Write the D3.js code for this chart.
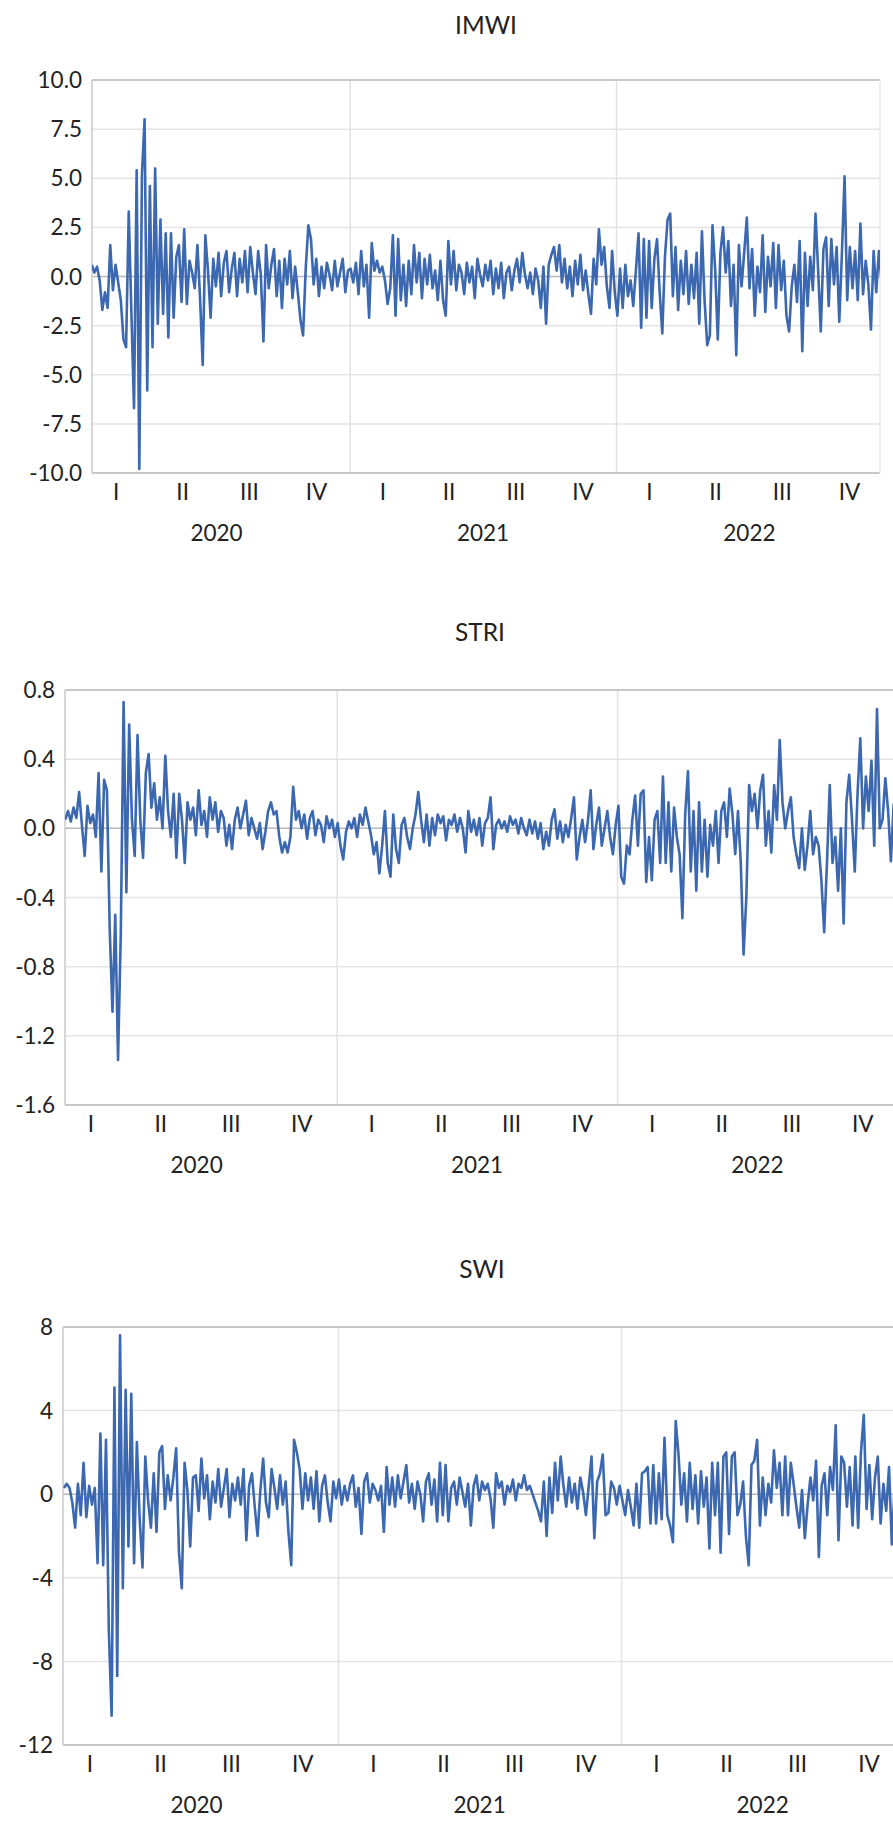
<!DOCTYPE html>
<html>
<head>
<meta charset="utf-8">
<script src="https://cdn.jsdelivr.net/npm/d3@7"></script>
<style>
  body { margin: 0; background: #fff; }
  svg { display: block; }
</style>
</head>
<body>
<svg id="chart"></svg>
<script>
// sample span of the daily series (evenly spaced observations)
const startDate = new Date(2020, 0, 13);
const endDate = new Date(2022, 11, 30);

const years = [2020, 2021, 2022];
const quarterLabels = ["I", "II", "III", "IV"];

const imwiTicks = [10, 7.5, 5, 2.5, 0, -2.5, -5, -7.5, -10];
const striTicks = [0.8, 0.4, 0, -0.4, -0.8, -1.2, -1.6];
const swiTicks = [8, 4, 0, -4, -8, -12];

const imwiValues = [
  0.6, 0.2, 0.5, -0.2, -1.7, -0.8, -1.6, 1.6, -0.7, 0.6,
  -0.3, -1.2, -3.2, -3.6, 3.3, -1.8, -6.7, 5.4, -9.8, 5.2,
  8.0, -5.8, 4.6, -3.6, 5.5, -2.4, 2.9, -1.9, 2.2, -3.1,
  2.2, -2.1, 1.0, 1.6, -1.3, 2.4, -1.4, 0.8, 0.2, -0.6,
  1.6, -1.1, -4.5, 2.1, 0.3, -2.1, 0.9, -0.5, 1.2, -1.0,
  0.7, 1.3, -0.8, 0.4, 1.2, -1.0, 0.9, -0.3, 1.3, -0.8,
  1.5, 0.2, -0.9, 1.3, 0.1, -3.3, 1.6, -0.6, 0.6, 1.4,
  -1.0, 0.8, -1.6, 0.9, -0.4, 1.3, -1.1, 0.5, -0.8, -2.2,
  -3.0, 0.4, 2.6, 1.9, -0.4, 0.9, -1.0, 0.5, -0.6, 0.7,
  0.1, -0.7, 0.8, -0.5, 0.2, 0.9, -0.8, 0.3, 0.4, -0.3,
  0.7, -0.9, 1.3, -0.5, 0.6, -2.1, 1.7, 0.3, 0.8, 0.2,
  0.5, -0.2, -1.4, -0.6, 2.1, -2.0, 1.9, -1.2, 0.6, -1.5,
  0.8, -0.9, 1.6, -0.3, 1.2, -1.1, 0.9, -0.4, 1.1, -0.6,
  0.3, -1.2, 0.8, -1.2, -2.0, 1.8, -0.4, 1.3, -0.7, 0.6,
  0.2, -0.9, 0.7, -0.3, 0.5, -1.1, 0.9, 0.1, -0.5, 0.6,
  -0.2, 0.8, -0.9, 0.4, -0.6, 0.7, -1.1, 0.2, 0.5, -0.7,
  0.3, 0.9, -0.3, 1.2, 0.1, -0.6, 0.2, -0.9, 0.4, -0.2,
  -1.6, 0.5, -2.4, 0.6, 1.1, 1.5, 0.3, 1.6, -0.3, 0.9,
  -0.6, 0.5, -1.0, 0.8, -0.4, 1.1, -0.7, 0.3, -0.9, -1.9,
  0.9, -0.4, 2.4, 0.6, 1.5, -0.5, -1.6, 1.3, -0.8, -2.0,
  0.4, -1.6, 0.6, -1.0, -0.2, -1.5, 0.3, 2.2, -2.6, 1.9,
  -2.1, 1.8, -1.6, 0.9, 1.9, -0.8, -2.9, 1.0, 2.9, 3.2,
  -1.0, 1.5, -1.7, 0.8, -0.9, 1.3, -1.4, 0.6, -1.1, 1.2,
  -2.4, 2.3, -1.2, -3.5, -3.0, 2.6, 0.4, -3.2, 1.2, 2.5,
  0.2, 1.8, -1.5, 0.6, -4.0, 1.6, -0.5, 1.2, 3.0, -0.6,
  1.4, -2.0, 0.5, -0.8, 2.1, -1.8, 1.0, -0.5, 1.7, -1.6,
  1.6, -0.7, 0.8, -2.0, -2.8, -0.5, 0.6, -1.3, 1.8, -3.8,
  1.2, -1.5, 1.0, -0.7, 3.2, 0.3, -2.8, 1.4, 2.0, -1.5,
  1.9, -0.4, 1.5, -2.3, 1.2, 5.1, -1.2, 1.5, -0.6, 1.3,
  -1.2, 2.7, -0.9, 0.8, -0.4, -2.7, 1.3, -0.8, 1.3, -0.3
];

const striValues = [
  0.05, 0.10, 0.04, 0.12, 0.06, 0.21, 0.02, -0.16, 0.13, 0.03,
  0.08, -0.05, 0.32, -0.25, 0.28, 0.22, -0.58, -1.06, -0.50, -1.34,
  -0.60, 0.73, -0.37, 0.60, 0.05, -0.16, 0.54, 0.05, -0.17, 0.32,
  0.43, 0.12, 0.26, 0.05, 0.18, 0.00, 0.42, 0.10, -0.05, 0.20,
  -0.17, 0.20, 0.05, -0.20, 0.15, 0.05, 0.12, -0.04, 0.22, 0.02,
  0.10, -0.05, 0.18, 0.05, 0.15, -0.02, 0.10, 0.06, -0.10, 0.02,
  -0.12, 0.05, 0.12, 0.00, 0.08, 0.16, -0.04, 0.06, 0.00, -0.06,
  0.03, -0.12, -0.02, 0.10, 0.15, 0.08, 0.10, -0.05, -0.14, -0.08,
  -0.14, -0.05, 0.24, 0.05, 0.10, 0.00, 0.08, -0.06, 0.06, 0.10,
  -0.04, 0.05, 0.02, -0.08, 0.07, 0.00, 0.05, -0.05, 0.03, -0.10,
  -0.18, -0.02, 0.04, 0.00, 0.06, -0.05, 0.08, 0.02, 0.12, 0.04,
  -0.04, -0.15, -0.08, -0.26, -0.10, 0.10, -0.20, -0.28, 0.08, -0.12,
  -0.20, 0.02, 0.06, -0.05, -0.12, 0.00, 0.08, 0.21, 0.05, -0.08,
  0.08, -0.10, 0.06, -0.04, 0.08, 0.03, 0.07, -0.07, 0.05, 0.02,
  0.08, -0.02, 0.06, 0.00, -0.14, 0.10, -0.02, 0.05, -0.04, 0.06,
  -0.10, 0.03, 0.06, 0.18, -0.12, 0.02, 0.05, 0.00, 0.04, -0.02,
  0.07, 0.02, 0.05, -0.03, 0.06, 0.00, -0.04, 0.05, -0.03, 0.04,
  -0.06, 0.03, -0.12, -0.02, -0.10, 0.05, 0.11, -0.06, 0.04, -0.08,
  0.02, -0.05, 0.06, 0.18, -0.18, -0.05, 0.05, -0.08, 0.04, 0.22,
  -0.12, 0.02, 0.12, -0.10, 0.00, 0.10, -0.05, -0.15, 0.02, 0.13,
  -0.28, -0.32, -0.10, -0.15, 0.05, 0.19, -0.10, 0.20, 0.22, -0.31,
  -0.05, -0.30, 0.05, 0.10, -0.20, 0.30, -0.20, 0.15, -0.25, 0.12,
  -0.05, -0.15, -0.52, 0.08, 0.33, -0.25, 0.10, -0.36, 0.15, -0.25,
  0.05, -0.28, 0.02, -0.10, 0.10, -0.20, 0.10, 0.15, -0.05, 0.23,
  0.08, -0.15, 0.10, -0.20, -0.73, -0.40, 0.25, 0.10, 0.20, 0.00,
  0.22, 0.31, -0.10, 0.10, -0.14, 0.25, 0.05, 0.51, 0.15, 0.00,
  0.10, 0.18, -0.05, -0.15, -0.23, 0.00, -0.24, -0.10, 0.10, -0.15,
  -0.05, -0.10, -0.30, -0.60, -0.20, 0.25, -0.20, -0.05, -0.36, 0.00,
  -0.55, 0.15, 0.31, 0.05, -0.25, 0.20, 0.52, 0.00, 0.30, 0.10,
  0.39, -0.10, 0.69, 0.00, 0.05, 0.29, 0.10, -0.19, 0.14, -0.10
];

const swiValues = [
  0.3, 0.5, 0.3, -0.4, -1.6, 0.5, -1.0, 1.5, -1.1, 0.4,
  -0.5, 0.3, -3.3, 2.9, -3.4, 2.6, -6.5, -10.6, 5.1, -8.7,
  7.6, -4.5, 5.0, -2.5, 4.8, -3.3, 2.5, -1.2, -3.5, 1.8,
  -0.3, -1.6, 1.0, -1.8, 2.0, 2.3, -0.7, 0.9, -0.3, 0.8,
  2.2, -2.8, -4.5, 1.5, 0.2, -2.5, 0.8, 0.9, -0.8, 1.7,
  -0.2, 0.9, -1.2, 0.6, -0.4, 1.2, -0.6, 0.3, 1.2, -1.1,
  0.5, -0.3, 0.8, -0.5, 1.2, -2.2, 0.4, 1.0, -0.6, -2.0,
  0.2, 1.7, -0.4, -1.1, 1.2, 0.3, -0.7, 0.9, -0.5, 0.6,
  -1.8, -3.4, 2.6, 2.0, 1.2, -0.7, 1.0, -0.3, 0.8, -0.7,
  1.1, -1.3, 0.4, 0.9, -0.4, -1.3, 0.6, -0.2, 0.7, -0.5,
  0.4, -0.3, 0.5, 0.9, -0.6, 0.3, -1.9, 0.6, 1.0, -0.4,
  0.5, 0.2, -0.3, 0.4, -1.8, 1.3, -0.5, 0.8, -0.6, 0.9,
  -0.2, 0.6, 1.4, -0.4, 0.5, -0.7, 0.6, 0.0, -1.3, 0.6,
  1.0, -0.5, 0.7, -1.3, 1.5, -1.0, 1.4, -1.3, 0.3, 0.6,
  -0.5, 0.8, 0.1, -0.6, 0.5, -1.5, 0.4, 0.9, -0.3, 0.6,
  0.2, 0.5, -0.2, -1.6, 1.0, 0.3, 0.6, -0.5, 0.4, 0.1,
  0.7, -0.3, 0.5, 0.3, 0.9, 0.2, 0.4, 0.0, -0.4, -0.8,
  -1.3, 0.6, -2.0, 0.8, -0.9, 1.5, -0.3, 1.8, 0.4, -0.6,
  0.8, -0.4, 0.5, -0.7, 0.8, 0.1, -1.0, 0.4, 1.8, -2.1,
  0.6, 1.0, 1.9, -1.0, -0.9, 0.6, 0.3, -0.5, 0.4, -0.3,
  -1.0, 0.2, -0.6, -1.5, 0.5, -1.6, 1.0, 1.1, 1.3, -1.4,
  1.4, -1.4, 1.0, -1.2, 2.7, -1.0, -1.5, -2.3, 3.5, 1.9,
  -0.5, 1.0, -1.3, 1.5, -0.7, 0.9, -1.4, 1.1, -0.6, 0.8,
  -2.6, 1.5, -1.0, 1.5, -2.8, 1.8, 2.0, -1.9, 1.8, 2.0,
  -1.0, -0.5, 0.6, -2.0, -3.4, 1.4, 1.6, 2.6, -1.5, 0.8,
  -1.0, 0.5, -0.4, 2.1, 0.3, 1.5, -1.0, 1.8, -1.0, 1.5,
  0.5, -0.6, -1.6, 0.2, -2.1, -0.5, 0.8, -0.3, 1.6, -3.0,
  0.4, 1.0, -1.0, 1.3, 0.2, 3.3, -2.2, 1.8, 1.5, -0.6,
  1.3, -1.5, 1.8, -1.6, 2.0, 3.8, -0.7, 1.4, -1.2, 0.8,
  1.8, -1.4, 0.5, -0.8, 1.3, -2.4, 0.4, -0.5, 0.8, -0.3
];

// plain hyphen for negative tick labels
const locale = d3.formatLocale({ decimal: ".", thousands: ",", grouping: [3], currency: ["", ""], minus: "-" });

const panels = [
  { title: "IMWI", values: imwiValues, ticks: imwiTicks, fmt: locale.format(".1f"),
    titleX: 486, titleY: 25, left: 92, right: 880, top: 80, bottom: 473,
    axisLeft: 83, axisRight: 883, rightEdge: true },
  { title: "STRI", values: striValues, ticks: striTicks, fmt: locale.format(".1f"),
    titleX: 480, titleY: 632, left: 65, right: 893, top: 690, bottom: 1105,
    axisLeft: 56, axisRight: 898, rightEdge: false },
  { title: "SWI", values: swiValues, ticks: swiTicks, fmt: locale.format("d"),
    titleX: 482, titleY: 1269, left: 63, right: 893, top: 1327, bottom: 1745,
    axisLeft: 54.6, axisRight: 904.6, rightEdge: false }
];

const width = 893, height = 1822;
const blue = "#3b68b0";
const ink = "#222";
const font = "Lato, 'Open Sans', sans-serif";

const svg = d3.select("#chart")
  .attr("width", width)
  .attr("height", height)
  .style("font-family", font);

panels.forEach((p, k) => {
  const n = p.values.length;
  const step = (endDate - startDate) / (n - 1);
  const data = p.values.map((v, i) => ({ date: new Date(+startDate + i * step), value: v }));

  const x = d3.scaleTime()
    .domain([new Date(2020, 0, 1), new Date(2023, 0, 1)])
    .range([p.axisLeft, p.axisRight]);
  const y = d3.scaleLinear()
    .domain(d3.extent(p.ticks))
    .range([p.bottom, p.top]);

  const g = svg.append("g");

  // horizontal grid
  g.selectAll(".grid")
    .data(p.ticks.filter(t => t !== 0))
    .enter().append("line")
    .attr("x1", p.left).attr("x2", p.right)
    .attr("y1", d => y(d)).attr("y2", d => y(d))
    .attr("stroke", "#e4e4e4").attr("stroke-width", 1.5);

  // year separators
  g.selectAll(".ysep")
    .data(years.slice(1))
    .enter().append("line")
    .attr("x1", d => x(new Date(d, 0, 1))).attr("x2", d => x(new Date(d, 0, 1)))
    .attr("y1", p.top).attr("y2", p.bottom)
    .attr("stroke", "#e2e2e2").attr("stroke-width", 1.5);

  // zero line
  g.append("line")
    .attr("x1", p.left).attr("x2", p.right)
    .attr("y1", y(0)).attr("y2", y(0))
    .attr("stroke", "#b8b8b8").attr("stroke-width", 1.5);

  // frame
  g.append("line").attr("x1", p.left).attr("x2", p.right).attr("y1", p.top).attr("y2", p.top)
    .attr("stroke", "#bcbcbc").attr("stroke-width", 1.5);
  g.append("line").attr("x1", p.left).attr("x2", p.right).attr("y1", p.bottom).attr("y2", p.bottom)
    .attr("stroke", "#bcbcbc").attr("stroke-width", 1.5);
  g.append("line").attr("x1", p.left).attr("x2", p.left).attr("y1", p.top).attr("y2", p.bottom)
    .attr("stroke", "#c8c8c8").attr("stroke-width", 1.5);
  if (p.rightEdge) {
    g.append("line").attr("x1", p.right).attr("x2", p.right).attr("y1", p.top).attr("y2", p.bottom)
      .attr("stroke", "#e8e8e8").attr("stroke-width", 1.5);
  }

  // series
  svg.append("clipPath").attr("id", "clip" + k)
    .append("rect")
    .attr("x", p.left).attr("y", p.top - 10)
    .attr("width", p.right - p.left).attr("height", p.bottom - p.top + 20);

  const line = d3.line()
    .x(d => x(d.date))
    .y(d => y(d.value));

  g.append("path")
    .datum(data)
    .attr("clip-path", `url(#clip${k})`)
    .attr("fill", "none")
    .attr("stroke", blue)
    .attr("stroke-width", 2.6)
    .attr("stroke-linejoin", "round")
    .attr("d", line);

  // title
  g.append("text")
    .attr("x", p.titleX).attr("y", p.titleY)
    .attr("dy", "0.36em")
    .attr("text-anchor", "middle")
    .attr("font-size", 24.5)
    .attr("fill", ink)
    .text(p.title);

  // y tick labels
  g.selectAll(".ytick")
    .data(p.ticks)
    .enter().append("text")
    .attr("x", p.left - 10)
    .attr("y", d => y(d))
    .attr("dy", "0.36em")
    .attr("text-anchor", "end")
    .attr("font-size", 22.5)
    .attr("fill", ink)
    .text(d => p.fmt(d));

  // quarter labels
  const quarters = [];
  years.forEach(yr => quarterLabels.forEach((q, qi) => {
    const a = new Date(yr, qi * 3, 1), b = new Date(yr, qi * 3 + 3, 1);
    quarters.push({ label: q, mid: new Date((+a + +b) / 2) });
  }));
  g.selectAll(".qtick")
    .data(quarters)
    .enter().append("text")
    .attr("x", d => x(d.mid))
    .attr("y", p.bottom + 19)
    .attr("dy", "0.36em")
    .attr("text-anchor", "middle")
    .attr("font-size", 22.5)
    .attr("fill", ink)
    .text(d => d.label);

  // year labels
  g.selectAll(".yrtick")
    .data(years)
    .enter().append("text")
    .attr("x", d => x(new Date(d, 6, 2)))
    .attr("y", p.bottom + 60)
    .attr("dy", "0.36em")
    .attr("text-anchor", "middle")
    .attr("font-size", 22.5)
    .attr("fill", ink)
    .text(d => d);
});
</script>
</body>
</html>
